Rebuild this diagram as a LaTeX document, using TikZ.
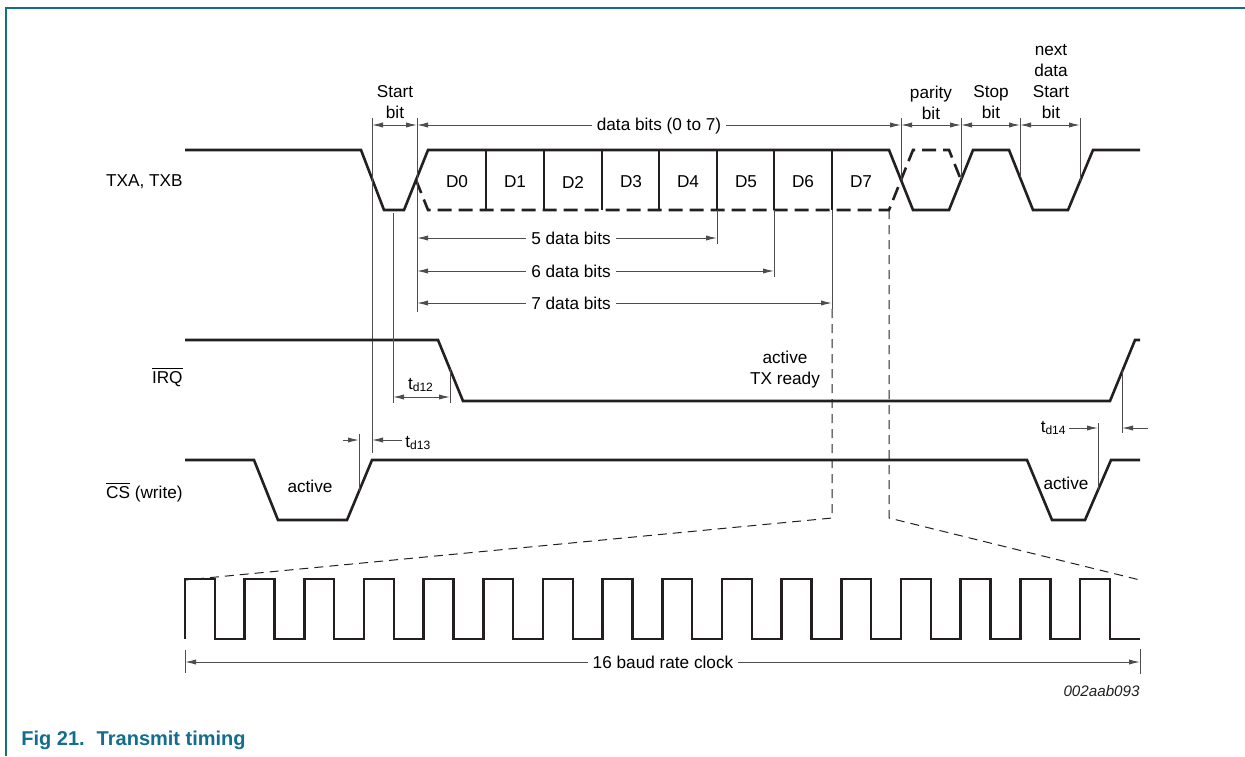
\documentclass[tikz,border=0pt]{standalone}
\usepackage{fontspec}
\setmainfont{Liberation Sans}
\usetikzlibrary{arrows.meta}
\definecolor{nxpteal}{RGB}{18,110,140}
\definecolor{ink}{RGB}{35,31,32}

\begin{document}
\begin{tikzpicture}[x=0.5pt,y=-0.5pt,
  >={Latex[length=5.5pt,width=2.6pt]},
  wave/.style={ink, line width=1.3pt},
  dwave/.style={wave, dash pattern=on 7pt off 3.5pt},
  ext/.style={ink!80, line width=0.5pt},
  zoomline/.style={ink, line width=0.5pt, dash pattern=on 4.5pt off 3pt},
  txt/.style={font=\fontsize{8.6}{10.5}\selectfont, inner sep=0pt, align=center},
  onarrow/.style={txt, fill=white, inner xsep=2.5pt}]

\useasboundingbox (0,0) rectangle (1245,756);

% frame and caption
\draw[nxpteal, line width=1pt] (5.5,756) -- (5.5,7.5) -- (1245,7.5);
\node[anchor=base west, inner sep=0pt, nxpteal, font=\fontsize{10}{12}\selectfont\bfseries] (caption) at (21,745) {Fig 21.\hspace{0.6em}Transmit timing};
\node[anchor=east, inner sep=0pt, font=\fontsize{7.6}{9}\selectfont\itshape, ink] (figid) at (1140,691) {002aab093};

% signal names
\node[txt, anchor=east] (txaname) at (183,182) {TXA, TXB};
\node[txt, anchor=east] (irqname) at (183,377) {$\overline{\mbox{IRQ}}$};
\node[txt, anchor=east] (csname) at (183,492) {$\overline{\mbox{CS}}$ (write)};

% TXA, TXB
\draw[wave] (185,150) -- (361,150) -- (384,210) -- (404,210) -- (428,150) -- (889,150) -- (913,210) -- (949,210) -- (973,150) -- (1009,150) -- (1033,210) -- (1068,210) -- (1093,150) -- (1140,150);
\draw[dwave] (416,180) -- (428,210) -- (889,210) -- (913,150) -- (949,150) -- (961,180);
\foreach \x in {486,544,602,659,717,774,832}
  \draw[wave] (\x,150) -- (\x,210);
\foreach \i/\x in {0/457,1/515,2/573,3/631,4/688,5/746,6/803,7/861}
  \node[txt] (d\i) at (\x,182) {D\i};

% frame bits
\foreach \n/\x/\y in {a/372/453,b/417/312,c/901/180,d/961/180,e/1020/177,f/1080/181}{
  \coordinate (top\n) at (\x,125);
  \draw[ext] (\x,118) -- (\x,\y);
}
\draw[ext, <->] (topa) -- (topb);
\draw[ext, <->] (topb) -- (topc);
\draw[ext, <->] (topc) -- (topd);
\draw[ext, <->] (topd) -- (tope);
\draw[ext, <->] (tope) -- (topf);
\node[txt] (startlbl) at (395,102.5) {Start\\bit};
\node[onarrow] (datalbl) at (659,126) {data bits (0 to 7)};
\node[txt] (paritylbl) at (931,102.5) {parity\\bit};
\node[txt] (stoplbl) at (991,102.5) {Stop\\bit};
\node[txt] (nextlbl) at (1051,81.5) {next\\data\\Start\\bit};

% 5, 6, 7 data bits
\foreach \n/\x/\y in {5/717/238,6/774/271,7/832/303}{
  \coordinate (bitsl\n) at (417,\y);
  \coordinate (bitsr\n) at (\x,\y);
  \draw[ext] (\x,210) -- (\x,\y+6);
  \draw[ext, <->] (bitsl\n) -- (bitsr\n);
  \node[onarrow] (bits\n) at (571,\y) {\n\ data bits};
}

% zoom onto the clock
\draw[zoomline] (832,309) -- (832,518) -- (185,580);
\draw[zoomline] (889,210) -- (889,518) -- (1140,580);

% IRQ
\draw[wave] (185,340) -- (438,340) -- (463,401) -- (1110,401) -- (1135,340) -- (1140,340);
\node[txt] (irqact) at (785,370) {active\\TX ready};

% t_d12
\draw[ext] (393,213) -- (393,403);
\draw[ext] (450,369) -- (450,403);
\coordinate (tdl) at (393,397);
\coordinate (tdr) at (450,397);
\draw[ext, <->] (tdl) -- (tdr);
\node[txt] (td12) at (421,385) {t\textsubscript{d12}};

% CS (write)
\draw[wave] (185,460) -- (254,460) -- (278,520) -- (347,520) -- (372,460) -- (1027,460) -- (1052,520) -- (1085,520) -- (1111,460) -- (1140,460);
\node[txt] (csact1) at (310,486) {active};
\node[txt] (csact2) at (1066,483) {active};

% t_d13
\draw[ext] (359,434) -- (359,491);
\coordinate (tdia) at (343,440);
\coordinate (tdib) at (359,440);
\coordinate (tdic) at (402,440);
\coordinate (tdid) at (372,440);
\draw[ext, ->] (tdia) -- (tdib);
\draw[ext, ->] (tdic) -- (tdid);
\node[txt, anchor=west] (td13) at (405,443) {t\textsubscript{d13}};

% t_d14
\draw[ext] (1098,423) -- (1098,490);
\draw[ext] (1122,370) -- (1122,433);
\coordinate (tdja) at (1069,428);
\coordinate (tdjb) at (1098,428);
\coordinate (tdjc) at (1148,428);
\coordinate (tdjd) at (1122,428);
\draw[ext, ->] (tdja) -- (tdjb);
\draw[ext, ->] (tdjc) -- (tdjd);
\node[txt, anchor=east] (td14) at (1067,428) {t\textsubscript{d14}};

% 16 baud rate clock
\draw[wave] (185,639) \foreach \k in {0,...,15} { -- ({185+59.67*\k},639) -- ({185+59.67*\k},579) -- ({214.8+59.67*\k},579) -- ({214.8+59.67*\k},639) } -- (1140,639);
\draw[ext] (185,650) -- (185,673);
\draw[ext] (1140,649) -- (1140,674);
\coordinate (clkl) at (185,662);
\coordinate (clkr) at (1140,662);
\draw[ext, <->] (clkl) -- (clkr);
\node[onarrow] (clklbl) at (663,662) {16 baud rate clock};

\end{tikzpicture}
\end{document}
